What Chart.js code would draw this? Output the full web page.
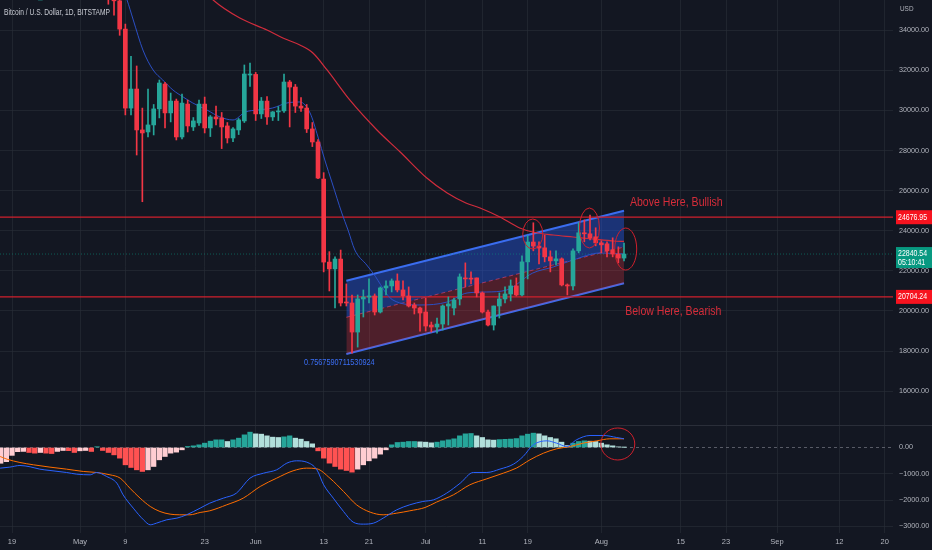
<!DOCTYPE html>
<html>
<head>
<meta charset="utf-8">
<script src="https://cdn.jsdelivr.net/npm/chart.js@4.4.0/dist/chart.umd.min.js"></script>
<style>
  html, body { margin: 0; padding: 0; background: #131722; }
  #wrap { width: 932px; height: 550px; }
</style>
</head>
<body>
<div id="wrap"><canvas id="chart"></canvas></div>
<script>
// BTCUSD daily candles, Apr 17 -> Aug 5 2022. Day numbers are counted from May 1.
const firstDay = -14;

const opens = [
  40380, 39700, 40800, 41500, 41370, 40500, 39700, 39450, 39450, 40430, 38120, 39240, 39740, 38600,
  37640, 38470, 38520, 37720, 39690, 36550, 36010, 35470, 34060, 30120, 31070, 29030, 28930, 29280, 30080, 31320,
  29880, 30470, 28680, 30320, 29180, 29380, 30320, 29130, 29680, 29630, 29230, 28630, 29030, 29480, 31770,
  31800, 29830, 30470, 29680, 29930, 29980, 31420, 31170, 30220, 30120, 29080, 28430, 26580, 22440, 22100,
  22590, 20450, 20400, 18950, 20600, 20700, 20750, 19950, 21150, 21250, 21500, 21050, 20750, 20300, 20150,
  19950, 19300, 19200, 19350, 20250, 20150, 20600, 21650, 21600, 21650, 20900, 19950, 19300, 20250, 20600,
  20850, 21250, 20800, 22450, 23440, 23240, 23150, 22700, 22500, 22600, 21300, 21250, 23000, 23900, 23850, 23700,
  23400, 23350, 23050, 22840, 22640
];
const highs = [
  40600, 41100, 41750, 42200, 42950, 40800, 40000, 39900, 40600, 40800, 39450, 40350, 39900, 38800,
  38650, 39150, 38650, 40000, 39850, 36650, 36100, 35500, 34310, 32700, 32220, 30120, 31070, 30300, 31520, 31400,
  30870, 30570, 30820, 30520, 29650, 30520, 30670, 29750, 30220, 29900, 29400, 29150, 29600, 32270, 32370,
  31900, 30650, 30700, 29950, 30200, 31820, 31500, 31300, 30650, 30300, 29400, 28550, 26900, 22960, 22700,
  23040, 21350, 20800, 20800, 21050, 21600, 20850, 21200, 21500, 21600, 21850, 21500, 21200, 20400, 20200,
  20650, 19450, 19650, 20300, 20700, 20650, 21850, 22400, 21950, 21650, 20950, 20050, 20250, 20900, 21200,
  21550, 21650, 22750, 23750, 24400, 23450, 23790, 23000, 23000, 22650, 21350, 23100, 24400, 24540, 24790, 24150,
  23500, 23450, 23650, 23200, 23390
];
const lows = [
  39550, 38550, 40550, 40850, 39750, 39200, 39300, 38900, 38200, 37700, 37880, 38850, 38200, 37600,
  37400, 38100, 37500, 37700, 35600, 35300, 34750, 33750, 29780, 29780, 27780, 25450, 28680, 28780, 29630, 29130,
  29430, 28530, 28580, 28930, 29000, 29250, 28880, 28700, 29280, 28100, 28380, 28450, 28800, 29400, 31200,
  29500, 29600, 29300, 29500, 29500, 29900, 29180, 29900, 29950, 28900, 28200, 26600, 21950, 21000, 20150,
  20250, 20250, 17900, 18200, 19700, 20400, 19800, 19900, 20800, 20950, 20950, 20550, 20200, 19850, 19000,
  19000, 18950, 18900, 19050, 19300, 19800, 20300, 21200, 21350, 20700, 19900, 19250, 19050, 19650, 20400,
  20500, 20750, 20750, 21600, 23000, 22350, 22450, 21950, 22300, 21250, 20800, 21050, 22900, 23450, 23550, 23250,
  22900, 22700, 22700, 22400, 22500
];
const closes = [
  39700, 40800, 41500, 41370, 40500, 39700, 39450, 39460, 40430, 38120, 39240, 39740, 38600, 37640,
  38470, 38520, 37720, 39690, 36550, 36010, 35470, 34060, 30120, 31070, 29030, 28880, 29280, 30080, 31370, 29880,
  30470, 28680, 30370, 29230, 29480, 30320, 29130, 29680, 29580, 29180, 28630, 29080, 29530, 31820, 31800,
  29830, 30470, 29680, 29930, 29980, 31420, 31170, 30220, 30120, 29080, 28430, 26630, 22440, 22100, 22590,
  20400, 20400, 18950, 20600, 20700, 20750, 19950, 21150, 21250, 21500, 21050, 20750, 20250, 20150, 19900,
  19250, 19200, 19350, 20250, 20350, 20550, 21700, 21600, 21590, 20900, 19950, 19300, 20250, 20600, 20850,
  21250, 20800, 22450, 23440, 23240, 23140, 22700, 22500, 22600, 21300, 21250, 23000, 23900, 23850, 23650, 23400,
  23300, 23000, 22840, 22640, 22840.54
];

// slow moving average (red) and fast average (blue)
const slowMaDays   = [20, 23.5, 28.2, 33, 35.8, 38.8, 41.1, 43.6, 47.6, 52.4, 56.5, 61.2, 64.8, 68.1, 70.6, 74.1, 77.6, 79.9, 83.5, 87, 90.5, 94.1, 96];
const slowMaValues = [36600, 35511, 34613, 34015, 33616, 33267, 32868, 32020, 30524, 29027, 27930, 26633, 25885, 25386, 25137, 24688, 24140, 23940, 23790, 23691, 23591, 23491, 23470];
const fastMaDays   = [7, 8.3, 9.4, 11.1, 12.9, 14.6, 16.4, 18.2, 19.9, 22.4, 24.7, 27, 29.2, 31.4, 34, 36.5, 38.8, 40.6, 42, 43.2, 44.5, 46.2, 47.3, 48.5, 50.6, 51.7, 55.2, 60, 64.8, 68.3, 71.8, 75.3, 79.9, 83.5, 87, 91.8, 96];
const fastMaValues = [36500, 35511, 34514, 33017, 32020, 31521, 31022, 30673, 30374, 30025, 29676, 29526, 29925, 30025, 30125, 30374, 30424, 29875, 28678, 27531, 26384, 24888, 24040, 23042, 22294, 21895, 20549, 20299, 20449, 20898, 20948, 21047, 21895, 22194, 22544, 22893, 22843];

// regression trend (Jun 17 -> Aug 5)
const channelDays  = [47, 96];
const channelUpper = [21511, 25002];
const channelMid   = [19686, 23192];
const channelLower = [17855, 21381];
const pearsonR = '0.7567590711530924';

const levels = [24676.95, 20704.24];
const lastPrice = 22840.54;
const countdown = '05:10:41';

// MACD pane
const histogram = [
  -600, -540, -300, -160, -150, -190, -215, -190, -215, -230, -150, -114, -120, -190,
  -127, -114, -152, 30, -114, -190, -280, -405, -659, -760, -849, -912, -849, -722, -469, -342,
  -215, -177, -89, 38, 63, 101, 165, 240, 291, 291, 228, 291, 355, 481, 583,
  519, 507, 443, 393, 380, 405, 443, 355, 317, 228, 139, -127, -405, -595, -722,
  -823, -874, -937, -823, -659, -507, -405, -253, -89, 101, 190, 203, 228, 228, 215,
  203, 177, 203, 253, 291, 330, 443, 519, 532, 443, 380, 291, 280, 300, 310,
  320, 340, 443, 507, 545, 519, 443, 380, 330, 203, 76, 165, 228, 253, 240, 228,
  165, 101, 63, 25, 5
];
const macdDays   = [-14.1, -12.4, -10.6, -8.8, -7.1, -5.3, -2.4, -0.6, 1.8, 2.9, 4.7, 6.5, 7.6, 9.4, 11.2, 12.4, 13.5, 15.3, 17.1, 18.8, 21.2, 22.9, 25.3, 27.6, 30, 32.4, 34.7, 36.5, 38.2, 40, 41.8, 43, 44.7, 46.5, 48.2, 50, 51.8, 53.5, 55.9, 58.2, 60.5, 62.4, 64.7, 67.1, 69.4, 71.8, 74.1, 76.5, 78.2, 80, 82.4, 84.1, 85.9, 87.6, 90, 92.4, 94.7, 96];
const macdValues = [-786, -747, -684, -735, -823, -874, -950, -1013, -1039, -950, -1102, -1356, -1799, -2306, -2749, -2939, -2876, -2749, -2686, -2559, -2306, -2116, -1926, -1736, -1166, -976, -849, -595, -507, -557, -849, -1419, -1926, -2433, -2838, -2914, -2876, -2686, -2369, -2179, -2053, -1989, -1736, -1356, -950, -950, -823, -633, -342, 101, 253, 165, 38, 291, 456, 456, 380, 330];
const signalDays   = [-14.1, -12.9, -10.6, -8.2, -5.3, -2.4, 0.6, 2.9, 5.3, 7.1, 8.8, 10.6, 12.4, 14.1, 15.9, 17.6, 19.4, 21.2, 22.9, 25.9, 28.8, 31.8, 34.7, 37.6, 40, 41.8, 44.1, 46.5, 48.8, 51.2, 53.5, 55.9, 58.2, 60.9, 62.9, 65.9, 68.8, 71.8, 74.7, 77, 79.4, 81.8, 84.1, 86.5, 88.8, 91.2, 93.5, 96];
const signalValues = [-342, -443, -570, -659, -747, -823, -912, -950, -1039, -1166, -1546, -1926, -2243, -2433, -2534, -2559, -2559, -2471, -2407, -2179, -1926, -1482, -1166, -887, -785, -811, -1166, -1672, -2179, -2458, -2559, -2496, -2407, -2281, -2078, -1799, -1419, -1191, -976, -785, -469, -215, -51, 38, 165, 253, 330, 330];

// time axis
const tickDays   = [-12, 0, 8, 22, 31, 43, 51, 61, 71, 79, 92, 106, 114, 123, 134, 142];
const tickLabels = ['19', 'May', '9', '23', 'Jun', '13', '21', 'Jul', '11', '19', 'Aug', '15', '23', 'Sep', '12', '20'];
const priceTicks = [16000, 18000, 20000, 22000, 24000, 26000, 28000, 30000, 32000, 34000];
const macdTicks  = [0, -1000, -2000, -3000];

// ---------------------------------------------------------------------------
const xView     = { min: -14.12, max: 143.47 };
const priceView = { min: 14314, max: 35511 };
const macdView  = { min: -3251, max: 855 };

const BG = '#131722';
const GRID = 'rgba(42,46,57,0.6)';
const TEXT = '#b2b5be';
const UP = '#26a69a';
const DOWN = '#f23645';
const LEVEL = '#d0202c';
const NOTE = '#d62d3a';
const FONT = '"Liberation Sans", Arial, sans-serif';

Chart.defaults.font.family = FONT;

const days = opens.map((_, i) => firstDay + i);
const candleColors = opens.map((o, i) => (closes[i] >= o ? UP : DOWN));
const histColors = histogram.map((v, i) => {
  const prev = i > 0 ? histogram[i - 1] : -Infinity;
  if (v >= 0) return v >= prev ? '#26a69a' : '#b2dfdb';
  return v < prev ? '#ff5252' : '#ffcdd2';
});
const pts = (xs, ys) => xs.map((x, i) => ({ x, y: ys[i] }));
const flat = (v) => [{ x: xView.min, y: v }, { x: xView.max, y: v }];

// hand-drawn marks: position in data units, radii in px
const priceCircles = [
  { day: 79.9, price: 23840, rx: 10, ry: 15 },
  { day: 89.9, price: 24140, rx: 10, ry: 20 },
  { day: 96.3, price: 23090, rx: 11, ry: 21 },
];
const macdCircle = { day: 94.9, value: 133, rx: 17, ry: 16 };
const notes = [
  { text: 'Above Here, Bullish', day: 97.05, price: 25386 },
  { text: 'Below Here, Bearish', day: 96.2, price: 19950 },
];

function ellipse(ctx, x, y, rx, ry) {
  ctx.beginPath();
  ctx.ellipse(x, y, rx, ry, 0, 0, Math.PI * 2);
  ctx.stroke();
}

// the reference screenshot is horizontally squeezed, so narrow the text a bit
function squeezed(ctx, text, x, y, sx, align) {
  ctx.save();
  ctx.translate(x, y);
  ctx.scale(sx, 1);
  ctx.textAlign = align || 'left';
  ctx.textBaseline = 'middle';
  ctx.fillText(text, 0, 0);
  ctx.restore();
}

function badge(ctx, area, y, color, lines) {
  const h = lines.length === 1 ? 14 : 21;
  ctx.fillStyle = color;
  ctx.fillRect(area.right + 3, y - 7, 40, h);
  ctx.fillStyle = '#ffffff';
  ctx.font = '8.5px ' + FONT;
  lines.forEach((t, i) => squeezed(ctx, t, area.right + 5, y + i * 9, 0.82));
}

const overlay = {
  id: 'overlay',
  beforeDraw(chart) {
    const { ctx, width, height } = chart;
    ctx.save();
    ctx.fillStyle = BG;
    ctx.fillRect(0, 0, width, height);
    ctx.restore();
  },
  afterDatasetsDraw(chart) {
    const { ctx, chartArea } = chart;
    const x = chart.scales.x, y = chart.scales.y, m = chart.scales.macd;
    ctx.save();
    ctx.strokeStyle = LEVEL;
    ctx.lineWidth = 1;
    priceCircles.forEach(c => ellipse(ctx, x.getPixelForValue(c.day), y.getPixelForValue(c.price), c.rx, c.ry));
    ellipse(ctx, x.getPixelForValue(macdCircle.day), m.getPixelForValue(macdCircle.value), macdCircle.rx, macdCircle.ry);

    ctx.fillStyle = NOTE;
    ctx.font = '12px ' + FONT;
    notes.forEach(n => squeezed(ctx, n.text, x.getPixelForValue(n.day), y.getPixelForValue(n.price), 0.88));

    ctx.fillStyle = '#3b6ff5';
    ctx.font = '8.5px ' + FONT;
    squeezed(ctx, pearsonR, x.getPixelForValue(channelDays[0]) - 7, y.getPixelForValue(channelLower[0]) + 9, 0.86, 'center');

    // pane separator
    ctx.strokeStyle = '#2a2e39';
    ctx.beginPath();
    ctx.moveTo(chartArea.left, y.bottom + 0.5);
    ctx.lineTo(chart.width, y.bottom + 0.5);
    ctx.stroke();
    ctx.restore();
  },
  afterDraw(chart) {
    const { ctx, chartArea } = chart;
    const y = chart.scales.y;
    ctx.save();
    ctx.fillStyle = '#c8cbd3';
    ctx.font = '9.5px ' + FONT;
    squeezed(ctx, 'Bitcoin / U.S. Dollar, 1D, BITSTAMP', 4, 12, 0.7);
    ctx.fillStyle = TEXT;
    ctx.font = '8px ' + FONT;
    squeezed(ctx, 'USD', chartArea.right + 7, 9, 0.8);
    levels.forEach(l => badge(ctx, chartArea, y.getPixelForValue(l), '#f7131f', [l.toFixed(2)]));
    badge(ctx, chartArea, y.getPixelForValue(lastPrice), '#089981', [lastPrice.toFixed(2), countdown]);
    ctx.restore();
  }
};

const line = (data, color, extra) => Object.assign({
  type: 'line', data, borderColor: color, borderWidth: 1, pointRadius: 0,
  cubicInterpolationMode: 'monotone', fill: false
}, extra);

const noPad = s => { s.paddingTop = 0; s.paddingBottom = 0; s.paddingLeft = 0; s.paddingRight = 0; };

new Chart(document.getElementById('chart'), {
  type: 'bar',
  data: {
    datasets: [
      // candles
      { data: days.map((d, i) => ({ x: d, y: [opens[i], closes[i]] })), backgroundColor: candleColors,
        barThickness: 4, minBarLength: 1, yAxisID: 'y', order: 1 },
      { data: days.map((d, i) => ({ x: d, y: [lows[i], highs[i]] })), backgroundColor: candleColors,
        barThickness: 1, yAxisID: 'y', order: 2 },
      // averages
      line(pts(fastMaDays, fastMaValues), '#2b4fc4', { yAxisID: 'y', order: 3 }),
      line(pts(slowMaDays, slowMaValues), '#d02c3c', { yAxisID: 'y', order: 3, borderWidth: 1.2 }),
      // horizontal levels
      line(flat(levels[0]), LEVEL, { yAxisID: 'y', order: 4, borderWidth: 1.3 }),
      line(flat(levels[1]), LEVEL, { yAxisID: 'y', order: 4, borderWidth: 1.3 }),
      line(flat(lastPrice), 'rgba(8,153,129,0.55)', { yAxisID: 'y', order: 4, borderDash: [1, 2] }),
      // regression channel
      line(pts(channelDays, channelUpper), '#3a6df0', { yAxisID: 'y', order: 10, borderWidth: 2,
        fill: '+1', backgroundColor: 'rgba(41,98,255,0.38)' }),
      line(pts(channelDays, channelMid), 'rgba(242,54,69,0.75)', { yAxisID: 'y', order: 10, borderDash: [4, 3],
        fill: '+1', backgroundColor: 'rgba(242,54,69,0.27)' }),
      line(pts(channelDays, channelLower), '#3a6df0', { yAxisID: 'y', order: 10, borderWidth: 2 }),
      // MACD
      line(pts(macdDays, macdValues), '#2962ff', { yAxisID: 'macd', order: 5 }),
      line(pts(signalDays, signalValues), '#ff6d00', { yAxisID: 'macd', order: 5 }),
      line(flat(0), 'rgba(120,123,134,0.7)', { yAxisID: 'macd', order: 30, borderDash: [3, 3] }),
      { data: days.map((d, i) => ({ x: d, y: histogram[i] })), backgroundColor: histColors,
        barThickness: 4.6, yAxisID: 'macd', order: 20 },
    ]
  },
  options: {
    responsive: true,
    maintainAspectRatio: false,
    animation: false,
    events: [],
    layout: { padding: 0 },
    datasets: { bar: { grouped: false, borderWidth: 0, borderSkipped: false } },
    plugins: { legend: { display: false }, tooltip: { enabled: false } },
    scales: {
      x: {
        type: 'linear', min: xView.min, max: xView.max, offset: false, bounds: 'data',
        grid: { color: GRID, drawTicks: false, offset: false }, border: { display: false },
        afterBuildTicks: s => { s.ticks = tickDays.map(v => ({ value: v })); },
        afterFit: s => { s.height = 17; noPad(s); },
        ticks: { autoSkip: false, maxRotation: 0, padding: 4, color: TEXT, font: { size: 7.5 },
                 callback: (v, i) => tickLabels[i] }
      },
      y: {
        type: 'linear', position: 'right', stack: 'panes', stackWeight: 425,
        min: priceView.min, max: priceView.max, beginAtZero: false, bounds: 'data',
        grid: { color: GRID, drawTicks: false }, border: { display: false },
        afterBuildTicks: s => { s.ticks = priceTicks.map(v => ({ value: v })); },
        afterFit: s => { s.width = 39; noPad(s); },
        ticks: { padding: 6, color: TEXT, font: { size: 7.2 }, callback: v => v.toFixed(2) }
      },
      macd: {
        type: 'linear', position: 'right', stack: 'panes', stackWeight: 108,
        min: macdView.min, max: macdView.max, beginAtZero: false, bounds: 'data',
        grid: { color: c => (c.tick && c.tick.value === 0 ? 'rgba(0,0,0,0)' : GRID), drawTicks: false },
        border: { display: false },
        afterBuildTicks: s => { s.ticks = macdTicks.map(v => ({ value: v })); },
        afterFit: s => { s.width = 39; noPad(s); },
        ticks: { padding: 6, color: TEXT, font: { size: 7.2 },
                 callback: v => (v < 0 ? '\u2212' + Math.abs(v).toFixed(2) : v.toFixed(2)) }
      }
    }
  },
  plugins: [overlay]
});
</script>
</body>
</html>
